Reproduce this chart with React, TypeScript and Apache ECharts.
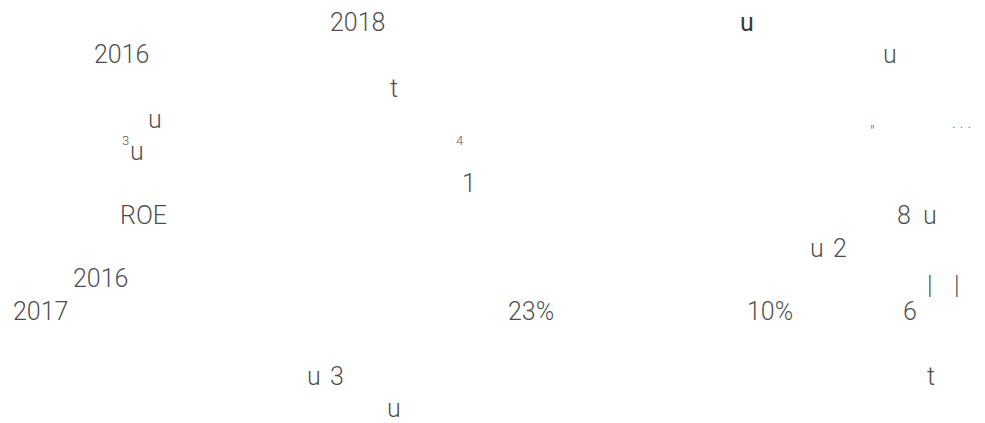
import React, { useEffect, useRef } from "react";
import * as echarts from "echarts";

// Regular text fragments: text, left x, baseline y
const mainTexts = ["2018", "2016", "u", "t", "u", "u", "1", "ROE", "8", "u", "u", "2", "2016", "|", "|", "2017", "23%", "10%", "6", "u", "3", "t", "u"];
const mainX = [330, 94, 883, 390, 148, 130, 462, 120, 897, 923, 810, 833, 73, 927, 954, 13, 508, 747, 903, 307, 330, 927, 387];
const mainY = [31, 63, 63, 97, 128, 160, 192, 224, 224, 224, 257, 257, 287, 294, 294, 320, 320, 320, 320, 385, 385, 385, 417];

// Superscript fragments
const supTexts = ["3", "4"];
const supX = [122, 456];
const supY = [145, 145];

// Bold fragment
const boldTexts = ["u"];
const boldX = [740];
const boldY = [31];

// Tiny glyphs
const smallTexts = ["″", ". . ."];
const smallX = [870, 952];
const smallY = [137, 128];

const FONT = "Roboto, 'Open Sans', sans-serif";

function pts(texts: string[], xs: number[], ys: number[]) {
  return texts.map((t, i) => ({ value: [xs[i], ys[i]], name: t }));
}

export default function App() {
  const ref = useRef<HTMLDivElement>(null);
  useEffect(() => {
    document.body.style.margin = "0";
    const chart = echarts.init(ref.current!, null, { renderer: "svg" });
    const mk = (data: any[], size: number, weight: any, color: string, off: number) => ({
      type: "scatter",
      symbolSize: 0,
      data,
      silent: true,
      itemStyle: { color },
      label: {
        show: true,
        position: [0, 0],
        align: "left",
        verticalAlign: "middle",
        offset: [0, off],
        formatter: (p: any) => p.name,
        fontFamily: FONT,
        fontSize: size,
        fontWeight: weight,
        color,
        textBorderWidth: 0,
        textBorderColor: "transparent",
        lineHeight: size,
      },
    });
    chart.setOption({
      animation: false,
      backgroundColor: "#ffffff",
      grid: { left: 0, right: 0, top: 0, bottom: 0 },
      xAxis: { type: "value", min: 0, max: 985, show: false },
      yAxis: { type: "value", min: 0, max: 423, inverse: true, show: false },
      series: [
        mk(pts(mainTexts, mainX, mainY), 25, 300, "#1a1a1a", -9),
        mk(pts(supTexts, supX, supY), 13, 300, "#1a1a1a", -5),
        mk(pts(boldTexts, boldX, boldY), 25, 400, "#000000", -9),
        mk(pts(smallTexts, smallX, smallY), 16, 300, "#333333", -6),
      ],
    });
    return () => chart.dispose();
  }, []);
  return <div ref={ref} style={{ width: 985, height: 423 }} />;
}
